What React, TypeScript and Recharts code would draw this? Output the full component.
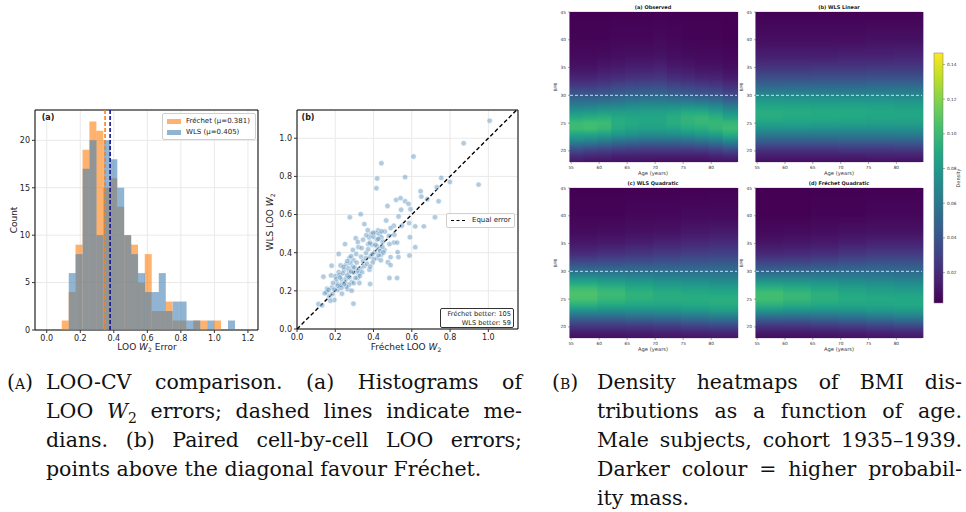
import React from "react";
import {
  BarChart,
  Bar,
  ScatterChart,
  Scatter,
  XAxis,
  YAxis,
  CartesianGrid,
  ReferenceLine,
  ReferenceArea,
} from "recharts";

// ---------- (a) histogram of LOO W2 errors ----------
const binCenters = [
  0.110, 0.151, 0.192, 0.234, 0.275, 0.316, 0.358, 0.399, 0.440, 0.482, 0.523, 0.564, 0.605,
  0.647, 0.688, 0.729, 0.771, 0.812, 0.853, 0.894, 0.936, 0.977, 1.018, 1.060, 1.101,
];
const frechetCounts = [1, 4, 9, 19, 22, 21, 15, 16, 13, 10, 9, 5, 8, 2, 2, 3, 1, 1, 0, 1, 1, 0, 1, 0, 0];
const wlsCounts = [0, 6, 8, 17, 20, 10, 20, 18, 15, 10, 8, 6, 4, 4, 6, 2, 3, 3, 1, 1, 0, 1, 0, 0, 1];
const frechetMedian = 0.348;
const wlsMedian = 0.378;
const histXTicks = [0, 0.2, 0.4, 0.6, 0.8, 1.0, 1.2];
const countTicks = [0, 5, 10, 15, 20];

// ---------- (b) paired LOO errors ----------
const frechetLoo = [
  1.007, 0.871, 0.609, 0.565, 0.754, 0.799, 0.949, 0.731, 0.646, 0.650, 0.740, 0.681, 0.518, 0.541,
  0.565, 0.583, 0.473, 0.544, 0.593, 0.721, 0.531, 0.466, 0.506, 0.489, 0.548, 0.586, 0.618, 0.663,
  0.509, 0.590, 0.506, 0.523, 0.457, 0.618, 0.526, 0.489, 0.530, 0.588, 0.475, 0.489, 0.483, 0.523,
  0.441, 0.419, 0.415, 0.459, 0.480, 0.483,
  0.333, 0.276, 0.352, 0.424, 0.412, 0.387, 0.377, 0.399, 0.431, 0.441, 0.307, 0.251, 0.321, 0.338,
  0.372, 0.392, 0.419, 0.448, 0.218, 0.274, 0.309, 0.296, 0.335, 0.361, 0.385, 0.406, 0.431, 0.440,
  0.419, 0.438, 0.181, 0.228, 0.258, 0.279, 0.291, 0.246, 0.218, 0.272, 0.298, 0.333, 0.323, 0.379,
  0.382, 0.138, 0.178, 0.201, 0.222, 0.234, 0.256, 0.274, 0.286, 0.251, 0.208, 0.230, 0.317, 0.326,
  0.265, 0.286, 0.213, 0.235, 0.183, 0.157, 0.155, 0.169, 0.185, 0.195, 0.174, 0.145, 0.112, 0.131,
  0.295,
  0.205, 0.225, 0.240, 0.262, 0.268, 0.283, 0.300, 0.312, 0.318, 0.345, 0.352, 0.360, 0.366, 0.372,
  0.381, 0.394, 0.402, 0.410, 0.418, 0.427, 0.434, 0.446, 0.452, 0.395, 0.383, 0.340, 0.328, 0.305,
  0.296, 0.272, 0.258, 0.246, 0.232, 0.212, 0.196, 0.188, 0.165, 0.244, 0.262, 0.283, 0.292, 0.318,
  0.345, 0.362, 0.398, 0.425, 0.442, 0.370,
];
const wlsLoo = [
  1.092, 0.974, 0.904, 0.796, 0.792, 0.771, 0.757, 0.743, 0.722, 0.694, 0.670, 0.680, 0.677, 0.686,
  0.670, 0.656, 0.645, 0.625, 0.628, 0.586, 0.590, 0.569, 0.541, 0.529, 0.541, 0.555, 0.538, 0.538,
  0.494, 0.481, 0.453, 0.453, 0.415, 0.429, 0.403, 0.377, 0.377, 0.385, 0.350, 0.335, 0.267, 0.267,
  0.869, 0.789, 0.738, 0.511, 0.488, 0.445,
  0.602, 0.586, 0.550, 0.517, 0.504, 0.497, 0.480, 0.483, 0.497, 0.480, 0.476, 0.445, 0.429, 0.424,
  0.445, 0.442, 0.433, 0.457, 0.393, 0.372, 0.393, 0.361, 0.379, 0.398, 0.380, 0.403, 0.421, 0.389,
  0.372, 0.360, 0.332, 0.333, 0.339, 0.346, 0.326, 0.309, 0.298, 0.298, 0.297, 0.319, 0.291, 0.311,
  0.236, 0.274, 0.281, 0.277, 0.284, 0.258, 0.262, 0.271, 0.246, 0.243, 0.241, 0.232, 0.267, 0.241,
  0.209, 0.201, 0.206, 0.185, 0.218, 0.211, 0.194, 0.171, 0.183, 0.152, 0.148, 0.187, 0.131, 0.124,
  0.133,
  0.262, 0.270, 0.292, 0.281, 0.318, 0.302, 0.322, 0.348, 0.306, 0.356, 0.330, 0.371, 0.342, 0.418,
  0.452, 0.392, 0.365, 0.442, 0.469, 0.388, 0.409, 0.432, 0.401, 0.348, 0.327, 0.298, 0.278, 0.268,
  0.240, 0.232, 0.222, 0.235, 0.216, 0.227, 0.206, 0.241, 0.205, 0.326, 0.356, 0.382, 0.414, 0.456,
  0.468, 0.492, 0.505, 0.472, 0.512, 0.518,
];
const scatterTicks = [0, 0.2, 0.4, 0.6, 0.8, 1.0];

// ---------- (B) density heatmaps ----------
const ageTicks = [55, 60, 65, 70, 75, 80];
const bmiTicks = [20, 25, 30, 35, 40, 45];
const bmiStops = [18, 19, 20, 21, 22, 23, 24, 25, 26, 27, 28, 29, 30, 31, 32, 33, 35, 37, 40, 45];
const observedAges = [56.04, 58.52, 61.0, 63.49, 65.97, 68.46, 70.94, 73.42, 75.91, 78.39, 80.87, 83.36];
const fittedAges = [57.28, 62.25, 67.22, 72.18, 77.15, 82.12];

// densities in units of 1e-3, one row per age column, one value per BMI stop
const densityObserved = [
  [12, 20, 33, 52, 72, 88, 100, 100, 90, 78, 65, 54, 44, 34, 25, 18, 10, 6, 4, 2],
  [10, 18, 30, 50, 70, 88, 102, 102, 92, 80, 66, 54, 43, 33, 25, 18, 10, 6, 4, 2],
  [10, 17, 28, 46, 66, 84, 98, 100, 94, 82, 68, 55, 44, 35, 27, 20, 12, 7, 4, 2],
  [9, 15, 26, 42, 60, 78, 90, 92, 90, 82, 70, 58, 47, 38, 30, 22, 13, 8, 5, 2],
  [9, 15, 25, 40, 58, 75, 86, 90, 88, 82, 72, 60, 49, 40, 32, 24, 15, 9, 5, 2],
  [9, 14, 24, 38, 56, 72, 84, 88, 88, 84, 74, 62, 50, 42, 33, 25, 15, 9, 5, 2],
  [8, 14, 24, 38, 56, 72, 84, 88, 88, 84, 74, 62, 51, 42, 34, 26, 16, 10, 6, 2],
  [8, 14, 24, 38, 56, 74, 86, 92, 92, 86, 74, 60, 48, 38, 30, 22, 13, 8, 5, 2],
  [8, 14, 24, 40, 58, 76, 90, 95, 96, 90, 76, 60, 46, 36, 28, 20, 12, 7, 4, 2],
  [8, 14, 25, 42, 62, 80, 92, 98, 98, 90, 74, 58, 44, 34, 26, 18, 10, 6, 4, 2],
  [9, 16, 28, 46, 66, 84, 96, 98, 94, 84, 70, 55, 42, 32, 24, 17, 10, 6, 4, 2],
  [10, 18, 32, 52, 74, 92, 100, 98, 88, 76, 62, 48, 36, 27, 20, 14, 8, 5, 3, 2],
];
const densityWlsLinear = [
  [8, 14, 22, 34, 48, 62, 75, 85, 91, 92, 88, 80, 70, 58, 47, 38, 24, 15, 8, 3],
  [8, 14, 22, 34, 48, 62, 75, 85, 90, 91, 87, 79, 70, 58, 48, 38, 24, 15, 8, 3],
  [8, 14, 22, 34, 48, 62, 74, 84, 90, 90, 86, 79, 69, 58, 48, 39, 25, 15, 8, 3],
  [8, 14, 23, 35, 49, 62, 74, 84, 89, 90, 86, 78, 69, 58, 48, 39, 25, 16, 8, 3],
  [9, 15, 23, 35, 49, 62, 74, 83, 88, 89, 85, 78, 69, 59, 49, 40, 26, 16, 9, 3],
  [9, 15, 24, 36, 50, 63, 74, 83, 88, 88, 84, 77, 68, 59, 49, 40, 26, 17, 9, 3],
];
const densityWlsQuadratic = [
  [8, 14, 24, 38, 56, 76, 94, 104, 106, 100, 88, 72, 56, 42, 31, 22, 12, 7, 4, 2],
  [8, 14, 24, 38, 56, 74, 90, 98, 100, 95, 84, 70, 56, 43, 33, 24, 13, 8, 4, 2],
  [9, 15, 25, 40, 58, 75, 88, 94, 95, 90, 80, 68, 55, 44, 34, 26, 15, 9, 5, 2],
  [10, 16, 27, 42, 60, 76, 88, 92, 92, 86, 77, 66, 55, 45, 36, 28, 17, 10, 5, 2],
  [10, 17, 29, 45, 63, 79, 89, 92, 90, 84, 75, 65, 55, 46, 38, 30, 19, 12, 6, 2],
  [11, 18, 31, 48, 66, 82, 91, 93, 89, 82, 73, 64, 55, 47, 39, 31, 21, 13, 6, 3],
];
const densityFrechetQuadratic = [
  [7, 13, 23, 38, 58, 78, 94, 102, 102, 94, 80, 64, 50, 38, 28, 20, 11, 6, 3, 2],
  [7, 13, 23, 38, 57, 76, 91, 98, 98, 91, 79, 64, 51, 39, 29, 21, 12, 7, 3, 2],
  [8, 14, 25, 40, 59, 76, 89, 94, 93, 87, 77, 64, 52, 41, 31, 23, 13, 8, 4, 2],
  [9, 15, 27, 43, 61, 77, 88, 91, 89, 83, 74, 63, 53, 43, 34, 26, 15, 9, 4, 2],
  [10, 17, 29, 46, 64, 79, 88, 90, 86, 80, 72, 62, 53, 44, 36, 28, 17, 10, 5, 2],
  [11, 18, 31, 49, 67, 81, 89, 89, 85, 78, 70, 61, 52, 44, 36, 28, 17, 10, 5, 2],
];
const colorbarTicks = [0.02, 0.04, 0.06, 0.08, 0.1, 0.12, 0.14];
const colorbarRange: [number, number] = [0.0025, 0.1466];

// viridis colour map
const viridisHex = [
  "#440154", "#482475", "#414487", "#355f8d", "#2a788e", "#21918c",
  "#22a884", "#44bf70", "#7ad151", "#bddf26", "#fde725",
];
function hexRgb(h: string) {
  return [1, 3, 5].map((i) => parseInt(h.slice(i, i + 2), 16));
}
function viridis(d: number) {
  let t = (d - colorbarRange[0]) / (colorbarRange[1] - colorbarRange[0]);
  t = Math.max(0, Math.min(1, t));
  const p = t * (viridisHex.length - 1);
  const i = Math.min(Math.floor(p), viridisHex.length - 2);
  const f = p - i;
  const a = hexRgb(viridisHex[i]);
  const b = hexRgb(viridisHex[i + 1]);
  const c = a.map((v, k) => Math.round(v + (b[k] - v) * f));
  return `rgb(${c[0]},${c[1]},${c[2]})`;
}

const SANS = "'DejaVu Sans', sans-serif";
const tickStyle = { fontSize: 8, fill: "#222", fontFamily: SANS };

function Label({ x, y, size, children, bold, rotate, color = "#222" }: any) {
  return (
    <div
      style={{
        position: "absolute",
        left: x,
        top: y,
        transform: `translate(-50%, -50%)${rotate ? ` rotate(${rotate}deg)` : ""}`,
        fontSize: size,
        fontWeight: bold ? 700 : 400,
        whiteSpace: "nowrap",
        lineHeight: 1,
        color,
        fontFamily: SANS,
      }}
    >
      {children}
    </div>
  );
}

function Histogram() {
  const data = binCenters.map((x, i) => ({ x, frechet: frechetCounts[i], wls: wlsCounts[i] }));
  return (
    <div style={{ position: "absolute", left: 0, top: 100 }}>
      <BarChart
        width={265}
        height={265}
        data={data}
        margin={{ top: 10, right: 7, left: 0, bottom: 0 }}
        barCategoryGap={0}
        barGap="-100%"
      >
        <CartesianGrid stroke="#e9e9e9" />
        <XAxis
          type="number"
          dataKey="x"
          domain={[-0.07, 1.26]}
          ticks={histXTicks}
          tickFormatter={(v) => v.toFixed(1)}
          height={35}
          tick={tickStyle}
          tickSize={3}
          tickLine={{ stroke: "#333" }}
          axisLine={false}
        />
        <YAxis
          type="number"
          domain={[0, 23.2]}
          ticks={countTicks}
          width={35}
          tick={tickStyle}
          tickSize={3}
          tickLine={{ stroke: "#333" }}
          axisLine={false}
        />
        <Bar dataKey="frechet" fill="#ff7f0e" fillOpacity={0.6} isAnimationActive={false} />
        <Bar dataKey="wls" fill="#4682b4" fillOpacity={0.6} isAnimationActive={false} />
        <ReferenceLine x={frechetMedian} stroke="#ff7f0e" strokeWidth={1.6} strokeDasharray="4 2" />
        <ReferenceLine x={wlsMedian} stroke="#14148c" strokeWidth={1.6} strokeDasharray="4 2" />
        <ReferenceArea x1={-0.07} x2={1.26} y1={0} y2={23.2} fill="none" stroke="#000" strokeWidth={1} />
      </BarChart>
    </div>
  );
}

const ScatterDot = (p: any) => (
  <circle cx={p.cx} cy={p.cy} r={2.7} fill="#4682b4" fillOpacity={0.42} stroke="#fff" strokeWidth={0.5} />
);

function PairedScatter() {
  const data = frechetLoo.map((x, i) => ({ x, y: wlsLoo[i] }));
  return (
    <div style={{ position: "absolute", left: 262, top: 100 }}>
      <ScatterChart width={262} height={265} margin={{ top: 10, right: 6, left: 0, bottom: 0 }}>
        <CartesianGrid stroke="#e9e9e9" />
        <XAxis
          type="number"
          dataKey="x"
          domain={[0, 1.155]}
          ticks={scatterTicks}
          tickFormatter={(v) => v.toFixed(1)}
          height={36}
          tick={tickStyle}
          tickSize={3}
          tickLine={{ stroke: "#333" }}
          axisLine={false}
        />
        <YAxis
          type="number"
          dataKey="y"
          domain={[0, 1.148]}
          ticks={scatterTicks}
          tickFormatter={(v) => v.toFixed(1)}
          width={35}
          tick={tickStyle}
          tickSize={3}
          tickLine={{ stroke: "#333" }}
          axisLine={false}
        />
        <Scatter data={data} shape={ScatterDot} isAnimationActive={false} />
        <ReferenceLine
          segment={[{ x: 0, y: 0 }, { x: 1.148, y: 1.148 }]}
          stroke="#000"
          strokeWidth={1.4}
          strokeDasharray="4 2.5"
        />
        <ReferenceArea x1={0} x2={1.155} y1={0} y2={1.148} fill="none" stroke="#000" strokeWidth={1} />
      </ScatterChart>
    </div>
  );
}

const HeatColumn = (p: any) => (
  <rect x={p.x - 0.5} y={p.y} width={p.width + 1.5} height={p.height} fill={`url(#${p.payload.gid})`} />
);

function HeatPanel({ id, ages, density, left, top, right }: any) {
  const lo = bmiStops[0];
  const hi = bmiStops[bmiStops.length - 1];
  const data = ages.map((age: number, i: number) => ({ age, span: [lo, hi], gid: `${id}-${i}` }));
  const smallTick = { fontSize: 4.3, fill: "#333", fontFamily: SANS };
  return (
    <div style={{ position: "absolute", left, top }}>
      <BarChart width={190} height={175} data={data} margin={{ top: 12, right, left: 0, bottom: 0 }} barCategoryGap={0}>
        <defs>
          {density.map((col: number[], i: number) => (
            <linearGradient key={i} id={`${id}-${i}`} x1="0" y1="1" x2="0" y2="0">
              {col.map((d, j) => (
                <stop key={j} offset={(bmiStops[j] - lo) / (hi - lo)} stopColor={viridis(d / 1000)} />
              ))}
            </linearGradient>
          ))}
        </defs>
        <XAxis
          type="number"
          dataKey="age"
          domain={[54.8, 84.6]}
          ticks={ageTicks}
          height={13}
          tick={smallTick}
          tickSize={2}
          tickLine={{ stroke: "#555", strokeWidth: 0.5 }}
          axisLine={false}
        />
        <YAxis
          type="number"
          domain={[lo, hi]}
          ticks={bmiTicks}
          width={20}
          tick={smallTick}
          tickSize={2}
          tickLine={{ stroke: "#555", strokeWidth: 0.5 }}
          axisLine={false}
        />
        <Bar dataKey="span" shape={HeatColumn} isAnimationActive={false} />
        <ReferenceLine y={30} stroke="#fff" strokeOpacity={0.75} strokeWidth={1} strokeDasharray="3 2" />
        <ReferenceArea x1={54.8} x2={84.6} y1={lo} y2={hi} fill="none" stroke="#a8a0b8" strokeWidth={0.6} />
      </BarChart>
    </div>
  );
}

const ColorbarRect = (p: any) => (
  <rect x={p.x} y={p.y} width={p.width} height={p.height} fill="url(#cbar)" stroke="#777" strokeWidth={0.5} />
);

function Colorbar() {
  return (
    <div style={{ position: "absolute", left: 930, top: 45 }}>
      <BarChart
        width={36}
        height={270}
        data={[{ k: "density", range: colorbarRange }]}
        margin={{ top: 8, right: 0, left: 4, bottom: 12 }}
        barCategoryGap={0}
      >
        <defs>
          <linearGradient id="cbar" x1="0" y1="1" x2="0" y2="0">
            {viridisHex.map((c, i) => (
              <stop key={i} offset={i / (viridisHex.length - 1)} stopColor={c} />
            ))}
          </linearGradient>
        </defs>
        <XAxis dataKey="k" hide />
        <YAxis
          orientation="right"
          type="number"
          domain={colorbarRange}
          ticks={colorbarTicks}
          tickFormatter={(v) => v.toFixed(2)}
          width={23}
          tick={{ fontSize: 4.3, fill: "#333", fontFamily: SANS }}
          tickSize={2}
          tickLine={{ stroke: "#555", strokeWidth: 0.5 }}
          axisLine={false}
        />
        <Bar dataKey="range" shape={ColorbarRect} isAnimationActive={false} />
      </BarChart>
    </div>
  );
}

const SERIF = "'DejaVu Serif', 'Liberation Serif', serif";

function Caption({ label, labelLeft, left, width, lines }: any) {
  return (
    <>
      <div
        style={{
          position: "absolute",
          left: labelLeft,
          top: 368,
          fontFamily: SERIF,
          fontSize: 20.5,
          lineHeight: "29px",
          fontVariant: "small-caps",
          whiteSpace: "nowrap",
          color: "#111",
        }}
      >
        {label}
      </div>
      {lines.map((ln: any, i: number) => (
        <div
          key={i}
          style={{
            position: "absolute",
            left,
            top: 368 + i * 29,
            width,
            fontFamily: SERIF,
            fontSize: 20.5,
            lineHeight: "29px",
            textAlign: "justify",
            textAlignLast: i < lines.length - 1 ? "justify" : "left",
            color: "#111",
          }}
        >
          {ln}
        </div>
      ))}
    </>
  );
}

export default function App() {
  const legendBox = {
    position: "absolute" as const,
    background: "rgba(255,255,255,0.85)",
    border: "1px solid #cfcfcf",
    borderRadius: 2,
    fontFamily: SANS,
    color: "#222",
  };
  return (
    <div
      style={{
        position: "fixed",
        left: 0,
        top: 0,
        width: 966,
        height: 512,
        background: "#fff",
        overflow: "hidden",
      }}
    >
      <Histogram />
      <PairedScatter />

      {/* histogram annotations */}
      <Label x={48} y={118} size={8} bold>(a)</Label>
      <div style={{ ...legendBox, left: 162, top: 113, width: 92, height: 25 }}>
        {[
          ["rgba(255,127,14,0.6)", "Fréchet (μ=0.381)"],
          ["rgba(70,130,180,0.6)", "WLS (μ=0.405)"],
        ].map(([c, t], i) => (
          <div key={i} style={{ position: "absolute", left: 4, top: 3 + i * 11, display: "flex", alignItems: "center" }}>
            <span style={{ display: "inline-block", width: 14, height: 5, background: c, marginRight: 5 }} />
            <span style={{ fontSize: 7, lineHeight: "8px" }}>{t}</span>
          </div>
        ))}
      </div>
      <Label x={14} y={220} size={9} rotate={-90}>Count</Label>
      <Label x={147} y={348} size={9}>
        LOO <i>W</i><sub style={{ fontSize: 6 }}>2</sub> Error
      </Label>

      {/* scatter annotations */}
      <Label x={308} y={118} size={8} bold>(b)</Label>
      <div style={{ ...legendBox, left: 446, top: 213, width: 67, height: 13 }}>
        <div style={{ position: "absolute", left: 4, top: 2, display: "flex", alignItems: "center" }}>
          <span style={{ display: "inline-block", width: 14, borderTop: "1.5px dashed #000", marginRight: 7 }} />
          <span style={{ fontSize: 7, lineHeight: "8px" }}>Equal error</span>
        </div>
      </div>
      <div
        style={{
          ...legendBox,
          border: "1px solid #333",
          left: 440,
          top: 308,
          width: 74,
          height: 20,
          textAlign: "right",
          fontSize: 6.6,
          lineHeight: "8.5px",
          padding: "1px 2px 0 0",
          boxSizing: "border-box",
        }}
      >
        Fréchet better: 105
        <br />
        WLS better: 59
      </div>
      <Label x={271} y={222} size={9} rotate={-90}>
        WLS LOO <i>W</i><sub style={{ fontSize: 6 }}>2</sub>
      </Label>
      <Label x={406} y={348} size={9}>
        Fréchet LOO <i>W</i><sub style={{ fontSize: 6 }}>2</sub>
      </Label>

      {/* heatmaps */}
      <HeatPanel id="obs" ages={observedAges} density={densityObserved} left={550} top={0} right={3} />
      <HeatPanel id="wlsl" ages={fittedAges} density={densityWlsLinear} left={736} top={0} right={4} />
      <HeatPanel id="wlsq" ages={fittedAges} density={densityWlsQuadratic} left={550} top={176} right={3} />
      <HeatPanel id="frq" ages={fittedAges} density={densityFrechetQuadratic} left={736} top={176} right={4} />
      <Colorbar />

      <Label x={653} y={7} size={5} bold>(a) Observed</Label>
      <Label x={839} y={7} size={5} bold>(b) WLS Linear</Label>
      <Label x={653} y={183} size={5} bold>(c) WLS Quadratic</Label>
      <Label x={839} y={183} size={5} bold>(d) Fréchet Quadratic</Label>
      <Label x={653} y={174} size={5.2} color="#333">Age (years)</Label>
      <Label x={839} y={174} size={5.2} color="#333">Age (years)</Label>
      <Label x={653} y={350} size={5.2} color="#333">Age (years)</Label>
      <Label x={839} y={350} size={5.2} color="#333">Age (years)</Label>
      <Label x={556} y={87} size={4.5} rotate={-90} color="#333">BMI</Label>
      <Label x={742} y={87} size={4.5} rotate={-90} color="#333">BMI</Label>
      <Label x={556} y={263} size={4.5} rotate={-90} color="#333">BMI</Label>
      <Label x={742} y={263} size={4.5} rotate={-90} color="#333">BMI</Label>
      <Label x={958} y={178} size={5} rotate={-90} color="#333">Density</Label>

      {/* captions */}
      <Caption
        label="(a)"
        labelLeft={7}
        left={46}
        width={476}
        lines={[
          "LOO-CV comparison. (a) Histograms of",
          <>LOO <i>W</i><sub style={{ fontSize: 14 }}>2</sub> errors; dashed lines indicate me-</>,
          "dians. (b) Paired cell-by-cell LOO errors;",
          "points above the diagonal favour Fréchet.",
        ]}
      />
      <Caption
        label="(b)"
        labelLeft={552}
        left={597}
        width={365}
        lines={[
          "Density heatmaps of BMI dis-",
          "tributions as a function of age.",
          "Male subjects, cohort 1935–1939.",
          "Darker colour = higher probabil-",
          "ity mass.",
        ]}
      />
    </div>
  );
}
